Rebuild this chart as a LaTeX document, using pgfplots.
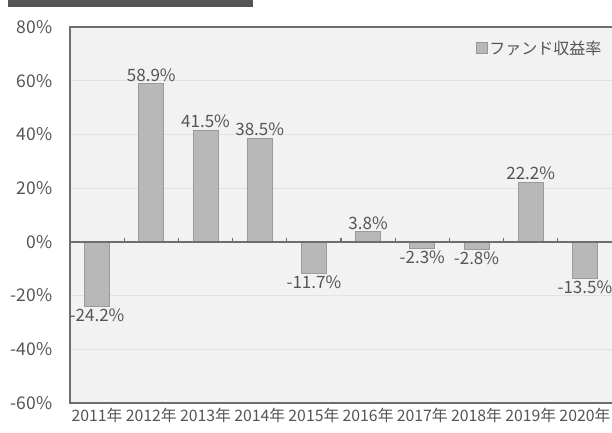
\documentclass[border=0pt]{standalone}
\usepackage{pgfplots}
\pgfplotsset{compat=1.18}
\usepackage{fontspec}
\setmainfont{Noto Sans CJK JP}
\definecolor{txt}{HTML}{555555}
\definecolor{darkbar}{HTML}{555555}
\definecolor{bgc}{HTML}{F2F2F2}
\definecolor{gridc}{HTML}{E2E2E2}
\definecolor{barfill}{HTML}{B8B8B8}
\definecolor{barline}{HTML}{9A9A9A}
\definecolor{framec}{HTML}{6E6E6E}
\begin{document}
\begin{tikzpicture}[x=1bp,y=1bp]
\useasboundingbox (0,0) rectangle (612,432);
\fill[darkbar] (8,425) rectangle (253,432);
\begin{axis}[
  at={(70bp,29bp)}, anchor=south west,
  scale only axis, width=542bp, height=376bp,
  xmin=-0.5, xmax=9.5, ymin=-60, ymax=80,
  ytick={-60,-40,...,80},
  yticklabel={\pgfmathprintnumber[assume math mode=true]{\tick}\%},
  xtick={0,...,9},
  xticklabels={2011年,2012年,2013年,2014年,2015年,2016年,2017年,2018年,2019年,2020年},
  major tick length=0pt,
  axis line style={draw=none},
  ymajorgrids,
  grid style={draw=gridc, line width=0.8bp},
  axis background/.style={fill=bgc},
  xticklabel style={font=\fontsize{15.8bp}{17bp}\selectfont, text=txt, yshift=-2bp, inner xsep=0pt},
  yticklabel style={font=\fontsize{17.5bp}{19bp}\selectfont, text=txt, xshift=-14bp},
  ybar, bar width=25bp,
  nodes near coords={\pgfmathprintnumber[fixed,precision=1,fixed zerofill,assume math mode=true]{\pgfplotspointmeta}\%},
  every node near coord/.append style={font=\fontsize{17bp}{19bp}\selectfont, text=txt, inner sep=2bp},
  legend style={draw=none, fill=none, at={(0.99,0.975)}, anchor=north east,
    font=\fontsize{16bp}{18bp}\selectfont, text=txt},
  legend image code/.code={\fill[barfill,draw=barline] (0bp,-5bp) rectangle (11bp,6bp);},
  clip=false,
]
\addplot[fill=barfill, draw=barline, line width=0.8bp] coordinates {
 (0,-24.2) (1,58.9) (2,41.5) (3,38.5) (4,-11.7) (5,3.8) (6,-2.3) (7,-2.8) (8,22.2) (9,-13.5)};
\addlegendentry{ファンド収益率}
\draw[framec, line width=1.3bp] (axis cs:-0.5,0) -- (axis cs:9.5,0);
\pgfplotsinvokeforeach{0.5,1.5,2.5,3.5,4.5,5.5,6.5,7.5,8.5}{
  \draw[framec, line width=1.2bp] (axis cs:#1,0) -- (axis cs:#1,1.6);
}
\draw[framec, line width=2.2bp] (rel axis cs:1,1) -- (rel axis cs:0,1) -- (rel axis cs:0,0) -- (rel axis cs:1,0);
\end{axis}
\end{tikzpicture}
\end{document}
